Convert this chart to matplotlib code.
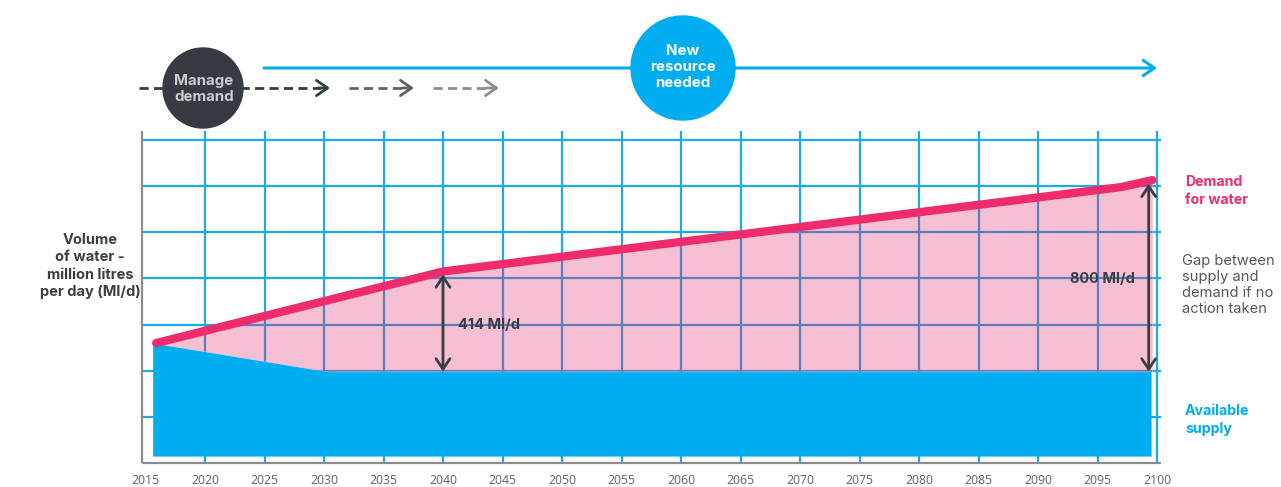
import numpy as np
import matplotlib.pyplot as plt
from matplotlib.patches import Circle

plt.rcParams['font.family'] = ['Inter', 'DejaVu Sans']

# values in grid units (1 unit ~ 190 Ml/d)
demand_years = [2015.9, 2040, 2097, 2099.6]
demand = [2.6, 4.15, 5.98, 6.13]
supply_years = [2015.6, 2030.3, 2099.5]
supply = [2.6, 1.98, 1.98]
supply_base = 0.15
tick_years = list(range(2015, 2101, 5))
gap_years = [2040, 2099.3]
gap_labels = ['414 Ml/d', '800 Ml/d']

BLUE = '#00AEEF'
PINK = '#EE2B6C'
PINK_FILL = '#F7BFD3'
DARK = '#3A3F44'
GRID = '#1EAAE6'
AXIS = '#8a8d90'

W, H = 1281, 487
fig = plt.figure(figsize=(W / 100, H / 100), dpi=100)
ax = fig.add_axes([145.5 / W, (H - 463) / H, (1157 - 145.5) / W, (463 - 140) / H])
ax.set_xlim(2015, 2100)
ax.set_ylim(0, 7)
for s in ax.spines.values():
    s.set_visible(False)
ax.set_yticks([])
ax.set_xticks(tick_years)
ax.set_xticklabels([str(y) for y in tick_years], family=['Open Sans', 'DejaVu Sans'],
                   fontsize=8.8, color='#5f6366')
ax.tick_params(axis='x', length=0, pad=8)

# grid
vx = tick_years[1:]
ax.vlines(vx, 0, 7.2, color=GRID, lw=1.6, zorder=1, clip_on=False)
ax.hlines(range(1, 8), 2014.7, 2100.3, color=GRID, lw=1.6, zorder=1, clip_on=False)

# gap between supply and demand
xs = np.union1d(demand_years, supply_years)
d = np.interp(xs, demand_years, demand)
s = np.interp(xs, supply_years, supply)
gap = ax.fill_between(xs, s, d, color=PINK_FILL, lw=0, zorder=2)
clip = gap.get_paths()[0]
g1 = ax.vlines(vx, 0, 7.2, color='#5A80BE', lw=1.6, zorder=3)
g1.set_clip_path(clip, ax.transData)
g2 = ax.hlines(range(1, 8), 2015, 2100.3, color='#5A80BE', lw=1.6, zorder=3)
g2.set_clip_path(clip, ax.transData)

# supply
ax.fill_between(supply_years, supply_base, supply, color=BLUE, lw=0, zorder=4)

# demand
ax.plot(demand_years, demand, color=PINK, lw=6, solid_capstyle='round',
        solid_joinstyle='round', zorder=5)

# axis lines
ax.vlines(2014.7, 0, 7.2, color=AXIS, lw=1.6, zorder=6, clip_on=False)
ax.hlines(0, 2014.7, 2100.3, color=AXIS, lw=1.6, zorder=6, clip_on=False)

# gap arrows
for yr in gap_years:
    top = np.interp(yr, demand_years, demand) - 0.06
    bot = np.interp(yr, supply_years, supply)
    ax.annotate('', xy=(yr, top), xytext=(yr, bot),
                arrowprops=dict(arrowstyle='<->,head_length=0.75,head_width=0.5',
                                color=DARK, lw=2, shrinkA=0, shrinkB=0), zorder=7)
ax.text(gap_years[0] + 1.3, 2.99, gap_labels[0], fontsize=10.5, fontweight='bold',
        color=DARK, va='center', ha='left', zorder=8)
ax.text(gap_years[1] - 1.2, 3.99, gap_labels[1], fontsize=10.5, fontweight='bold',
        color=DARK, va='center', ha='right', zorder=8)

# overlay in pixel coordinates for annotations
over = fig.add_axes([0, 0, 1, 1])
over.set_xlim(0, W)
over.set_ylim(H, 0)
over.axis('off')

over.text(90, 266, 'Volume\nof water -\nmillion litres\nper day (Ml/d)', fontsize=10.5,
          fontweight='bold', color=DARK, ha='center', va='center', linespacing=1.3)
over.text(1185, 191, 'Demand\nfor water', fontsize=10.2, fontweight='bold', color=PINK,
          ha='left', va='center', linespacing=1.3)
over.text(1182, 285, 'Gap between\nsupply and\ndemand if no\naction taken', fontsize=10.6,
          color='#55595d', ha='left', va='center', linespacing=1.2)
over.text(1185, 420, 'Available\nsupply', fontsize=10.2, fontweight='bold', color=BLUE,
          ha='left', va='center', linespacing=1.3)

# manage demand dashed arrows
dash_cols = ['#353B40', '#5D6368', '#8A8F93']
dash_segs = [(139, 330), (349, 414), (433, 499)]
for (x0, x1), c in zip(dash_segs, dash_cols):
    over.plot([x0, x1 - 10], [88, 88], color=c, lw=2, dashes=(3.3, 1.9))
    over.annotate('', xy=(x1, 88), xytext=(x1 - 12, 88),
                  arrowprops=dict(arrowstyle='->,head_length=0.8,head_width=0.55',
                                  color=c, lw=2, shrinkA=0, shrinkB=0))
over.add_patch(Circle((203, 88), 40, color='#353B40', zorder=5))
over.text(204, 89, 'Manage\ndemand', fontsize=10.8, fontweight='bold', color='#C9CBCD',
          ha='center', va='center', linespacing=1.25, zorder=6)

# new resource arrow
over.annotate('', xy=(1157, 68), xytext=(264, 68),
              arrowprops=dict(arrowstyle='->,head_length=0.8,head_width=0.55',
                              color=BLUE, lw=2.2, shrinkA=0, shrinkB=0))
over.add_patch(Circle((683, 68), 52, color=BLUE, zorder=5))
over.text(683, 67, 'New\nresource\nneeded', fontsize=10.8, fontweight='bold', color='white',
          ha='center', va='center', linespacing=1.2, zorder=6)

fig.savefig('out.png', dpi=100)
